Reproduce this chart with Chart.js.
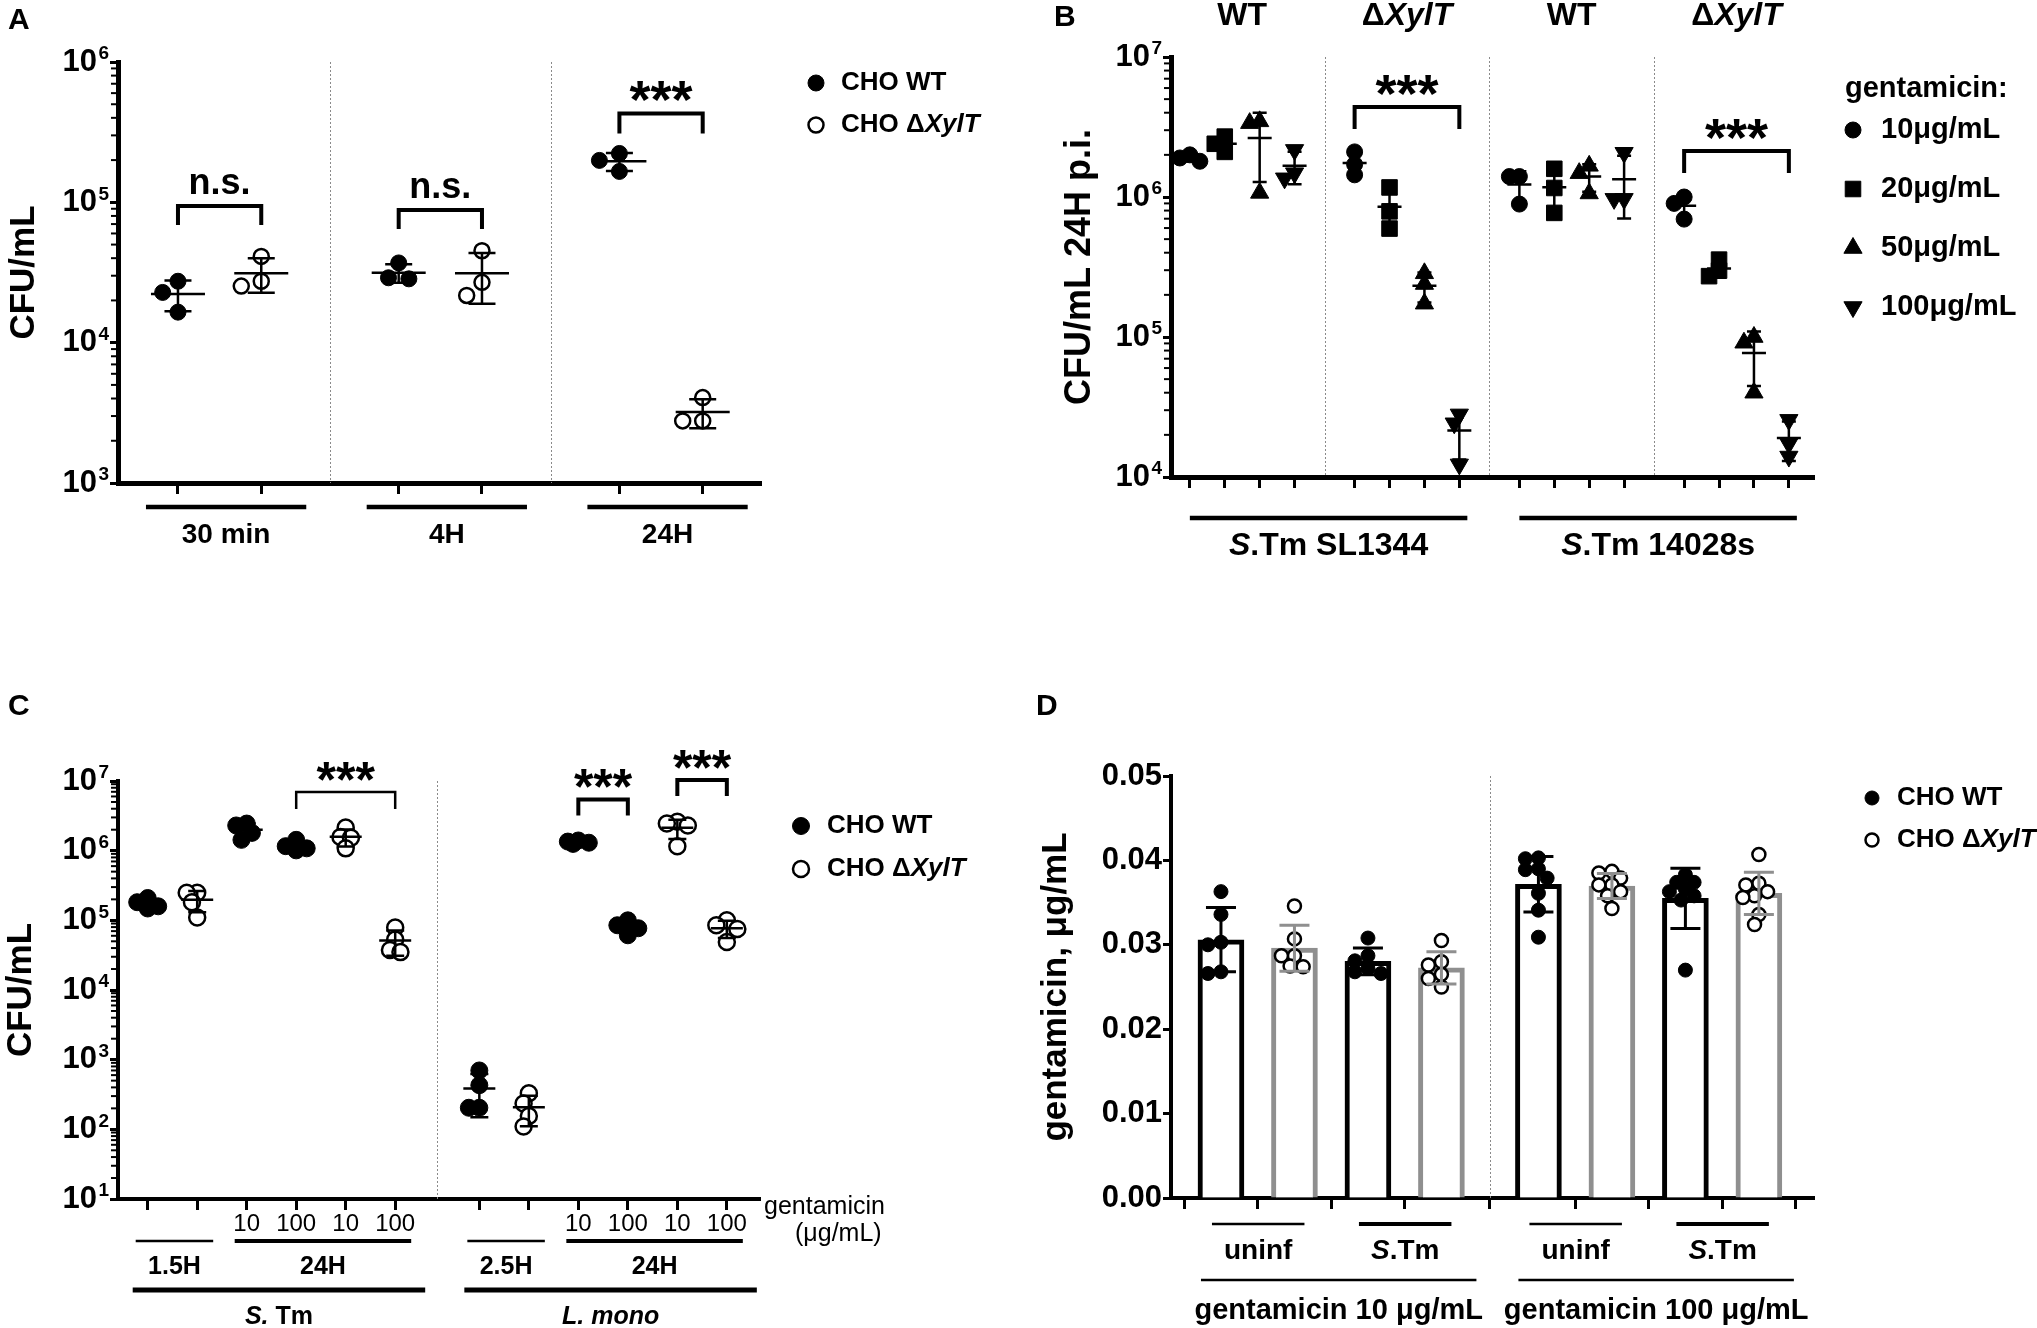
<!DOCTYPE html>
<html>
<head>
<meta charset="utf-8">
<title>CHO XylT gentamicin protection assays</title>
<script src="https://cdn.jsdelivr.net/npm/chart.js@4.4.1/dist/chart.umd.min.js"></script>
<style>
  html, body { margin: 0; padding: 0; background: #fff; }
  #page { position: relative; width: 2037px; height: 1328px; overflow: hidden; background: #fff; }
  #page canvas { position: absolute; }
</style>
</head>
<body>
<div id="page">
  <canvas id="panelA" width="1018" height="660" style="left:0px;top:0px"></canvas>
  <canvas id="panelB" width="1019" height="660" style="left:1018px;top:0px"></canvas>
  <canvas id="panelC" width="1018" height="668" style="left:0px;top:660px"></canvas>
  <canvas id="panelD" width="1019" height="668" style="left:1018px;top:660px"></canvas>
</div>
<script>
const FONT = '"Liberation Sans", Arial, Helvetica, sans-serif';
Chart.defaults.font.family = FONT;
Chart.defaults.color = '#000';

// ---------------- data ----------------
// italic parts of a label are wrapped in _underscores_
const hostLegend = ['CHO WT', 'CHO Δ_XylT_'];

// A: CFU/mL, 3 replicates per host and time
const aTimes = ['30 min', '4H', '24H'];
const aWT = [[2.74e4, 2.28e4, 1.65e4], [3.7e4, 2.9e4, 2.85e4], [2.23e5, 1.99e5, 1.66e5]];
const aXylT = [[4.12e4, 2.74e4, 2.53e4], [4.52e4, 2.69e4, 2.17e4], [4.06e3, 2.77e3, 2.77e3]];
const aSig = ['n.s.', 'n.s.', '***'];
const aTicks = [1e3, 1e4, 1e5, 1e6];

// B: CFU/mL 24H p.i., per gentamicin dose (10, 20, 50, 100)
const bStrains = ['_S_.Tm SL1344', '_S_.Tm 14028s'];
const bHosts = ['WT', 'Δ_XylT_', 'WT', 'Δ_XylT_'];
const bDoses = ['10μg/mL', '20μg/mL', '50μg/mL', '100μg/mL'];
const bWT_SL1344 = [[2.0e6, 1.9e6, 1.8e6], [2.7e6, 2.4e6, 2.1e6], [3.47e6, 3.37e6, 1.07e6], [2.17e6, 1.36e6, 1.48e6]];
const bXylT_SL1344 = [[2.1e6, 1.71e6, 1.44e6], [1.17e6, 7.9e5, 5.95e5], [2.85e5, 2.39e5, 1.73e5], [2.8e4, 2.42e4, 1.23e4]];
const bWT_14028s = [[1.4e6, 1.4e6, 8.9e5], [1.59e6, 1.16e6, 7.7e5], [1.67e6, 1.48e6, 1.06e6], [2.07e6, 9.7e5, 9.7e5]];
const bXylT_14028s = [[1.0e6, 9.0e5, 6.95e5], [3.57e5, 2.98e5, 2.72e5], [1.0e5, 9.1e4, 4.0e4], [2.56e4, 1.73e4, 1.4e4]];
const bSig = ['***', '***'];
const bTicks = [1e4, 1e5, 1e6, 1e7];

// C: CFU/mL, S.Tm and L. mono, 4 replicates
const cTimes = ['1.5H', '24H', '2.5H', '24H'];
const cBugs = ['_S._ Tm', '_L. mono_'];
const cGenta = ['', '', '10', '100', '10', '100'];
const cHost = ['WT', 'XylT', 'WT', 'WT', 'XylT', 'XylT'];
const cSTm = [
  [2.09e5, 1.82e5, 1.59e5, 1.48e5],
  [2.49e5, 2.49e5, 1.82e5, 1.1e5],
  [2.45e6, 2.3e6, 1.8e6, 1.43e6],
  [1.43e6, 1.16e6, 1.08e6, 1.01e6],
  [2.15e6, 1.57e6, 1.53e6, 1.08e6],
  [7.9e4, 5.3e4, 3.76e4, 3.5e4]
];
const cLmono = [
  [7.0e2, 4.3e2, 2.04e2, 2.04e2],
  [3.3e2, 2.35e2, 1.55e2, 1.1e2],
  [1.4e6, 1.35e6, 1.3e6, 1.25e6],
  [1.0e5, 8.5e4, 7.7e4, 6.1e4],
  [2.6e6, 2.45e6, 2.3e6, 1.16e6],
  [1.0e5, 8.5e4, 7.5e4, 4.9e4]
];
const cSig = ['***', '***', '***'];
const cTicks = [1e1, 1e2, 1e3, 1e4, 1e5, 1e6, 1e7];

// D: gentamicin, µg/mL
const dInfection = ['uninf', '_S_.Tm', 'uninf', '_S_.Tm'];
const dGenta = ['gentamicin 10 μg/mL', 'gentamicin 100 μg/mL'];
const dWT = [
  [0.0363, 0.0336, 0.0303, 0.0300, 0.0268, 0.0266],
  [0.0308, 0.0287, 0.0281, 0.0272, 0.0268, 0.0266],
  [0.0403, 0.0402, 0.0390, 0.0389, 0.0379, 0.0361, 0.0341, 0.0309],
  [0.0383, 0.0374, 0.0374, 0.0366, 0.0363, 0.0358, 0.0353, 0.0270]
];
const dXylT = [
  [0.0346, 0.0307, 0.0287, 0.0287, 0.0275, 0.0274],
  [0.0305, 0.0280, 0.0276, 0.0265, 0.0260, 0.0250],
  [0.0385, 0.0387, 0.0379, 0.0371, 0.0371, 0.0363, 0.0358, 0.0343],
  [0.0407, 0.0373, 0.0371, 0.0363, 0.0358, 0.0356, 0.0336, 0.0324]
];
const dTicks = [0, 0.01, 0.02, 0.03, 0.04, 0.05];

// ---------------- helpers ----------------
const GREY = '#8f8f8f';

function mean(a) { return a.reduce((s, v) => s + v, 0) / a.length; }
function sd(a) {
  const m = mean(a);
  return Math.sqrt(a.reduce((s, v) => s + (v - m) * (v - m), 0) / (a.length - 1));
}

// x position of each column, with an extra gap between groups
function columns(n, perGroup, start, gap) {
  const out = [];
  for (let i = 0; i < n; i++) out.push(start + i + Math.floor(i / perGroup) * gap);
  return out;
}
function separators(pos, perGroup) {
  const out = [];
  for (let i = perGroup; i < pos.length; i += perGroup) out.push((pos[i - 1] + pos[i]) / 2);
  return out;
}

// spread points sideways (pixel space); some overlap allowed in narrow columns, like Prism
function swarmOffsets(ys, d, maxOff, overlap) {
  const order = ys.map((_, i) => i).sort((p, q) => ys[p] - ys[q]);
  const thr = overlap * d;
  const s = Math.min(0.3 * d, maxOff);
  const cands = [0];
  for (let k = 1; k * s < maxOff - 0.01; k++) cands.push(-k * s, k * s);
  cands.push(-maxOff, maxOff);
  const placed = [];
  const off = ys.map(() => 0);
  order.forEach(i => {
    let pick = 0, bestD = -1;
    for (const o of cands) {
      let dmin = Infinity;
      placed.forEach(p => { dmin = Math.min(dmin, Math.hypot(p.o - o, p.y - ys[i])); });
      if (dmin >= thr) { pick = o; break; }
      if (dmin > bestD) { bestD = dmin; pick = o; }
    }
    off[i] = pick;
    placed.push({ o: pick, y: ys[i] });
  });
  return off;
}

function richText(ctx, str, x, y, size, weight, align) {
  const parts = str.split('_').map((t, i) => ({ t: t, it: i % 2 === 1 })).filter(p => p.t);
  const fontOf = p => (p.it ? 'italic ' : '') + weight + ' ' + size + 'px ' + FONT;
  let total = 0;
  parts.forEach(p => { ctx.font = fontOf(p); p.w = ctx.measureText(p.t).width; total += p.w; });
  let cx = align === 'center' ? x - total / 2 : (align === 'right' ? x - total : x);
  ctx.textAlign = 'left';
  ctx.textBaseline = 'middle';
  parts.forEach(p => { ctx.font = fontOf(p); ctx.fillText(p.t, cx, y); cx += p.w; });
}

function drawMarker(ctx, st, x, y) {
  ctx.save();
  ctx.fillStyle = st.pointBackgroundColor;
  ctx.strokeStyle = st.pointBorderColor;
  ctx.lineWidth = st.pointBorderWidth;
  Chart.helpers.drawPoint(ctx, {
    pointStyle: st.pointStyle, rotation: st.pointRotation || 0,
    radius: st.pointRadius, borderWidth: st.pointBorderWidth
  }, x, y);
  ctx.restore();
}

// one dataset = one column of replicates
function column(vals, x, style, eb, swarm) {
  return Object.assign({
    type: 'scatter',
    data: vals.map(v => ({ x: x, y: v })),
    vals: vals,
    swarm: swarm,
    clip: false,
    order: 0,
    eb: Object.assign({ x: x }, eb)
  }, style);
}

// ---------------- plugin for the Prism-style extras ----------------
const DECOR = {};
const decorPlugin = {
  id: 'decor',
  afterDatasetsUpdate(chart) {
    chart.data.datasets.forEach((ds, i) => {
      if (!ds.swarm) return;
      const els = chart.getDatasetMeta(i).data;
      const off = swarmOffsets(els.map(e => e.y), ds.swarm[0], ds.swarm[1], ds.swarm[2]);
      els.forEach((e, k) => { e.x += off[k]; });
    });
  },
  beforeDatasetsDraw(chart) {
    const sp = DECOR[chart.canvas.id];
    const ctx = chart.ctx, xs = chart.scales.x, ca = chart.chartArea;
    ctx.save();
    ctx.strokeStyle = '#8a8a8a';
    ctx.lineWidth = 1;
    ctx.setLineDash([2, 2]);
    sp.seps.forEach(v => {
      const px = Math.round(xs.getPixelForValue(v)) + 0.5;
      ctx.beginPath(); ctx.moveTo(px, ca.top); ctx.lineTo(px, ca.bottom); ctx.stroke();
    });
    ctx.restore();
  },
  afterDatasetsDraw(chart) {
    const ctx = chart.ctx, xs = chart.scales.x, ys = chart.scales.y;
    ctx.save();
    ctx.lineCap = 'butt';
    chart.data.datasets.forEach(ds => {
      if (!ds.eb || !ds.vals) return;
      const e = ds.eb, m = mean(ds.vals), s = sd(ds.vals);
      const px = xs.getPixelForValue(e.x);
      const yT = ys.getPixelForValue(m + s);
      const yB = m - s > 0 ? ys.getPixelForValue(m - s) : chart.chartArea.bottom;
      const yM = ys.getPixelForValue(m);
      ctx.strokeStyle = e.color;
      ctx.lineWidth = e.lw;
      ctx.beginPath();
      ctx.moveTo(px, yT); ctx.lineTo(px, yB);
      ctx.moveTo(px - e.cap, yT); ctx.lineTo(px + e.cap, yT);
      ctx.moveTo(px - e.cap, yB); ctx.lineTo(px + e.cap, yB);
      if (e.mean > 0) { ctx.moveTo(px - e.mean, yM); ctx.lineTo(px + e.mean, yM); }
      ctx.stroke();
    });
    ctx.restore();
  },
  afterDraw(chart) {
    const sp = DECOR[chart.canvas.id];
    const ctx = chart.ctx, xs = chart.scales.x, ys = chart.scales.y, ca = chart.chartArea;
    ctx.save();
    ctx.fillStyle = '#000';
    ctx.strokeStyle = '#000';
    ctx.lineCap = 'butt';
    ctx.lineJoin = 'miter';

    if (sp.log) {
      // minor ticks and the decade exponents next to the "10" tick labels
      ctx.lineWidth = 2;
      const lo = Math.round(Math.log10(ys.min)), hi = Math.round(Math.log10(ys.max));
      for (let n = lo; n < hi; n++) {
        for (let k = 2; k <= 9; k++) {
          const py = ys.getPixelForValue(k * Math.pow(10, n));
          ctx.beginPath(); ctx.moveTo(ca.left - 7, py); ctx.lineTo(ca.left, py); ctx.stroke();
        }
      }
      ctx.font = 'bold 19px ' + FONT;
      ctx.textAlign = 'right';
      ctx.textBaseline = 'middle';
      ys.ticks.forEach(t => {
        ctx.fillText(String(Math.round(Math.log10(t.value))), ca.left - 9, ys.getPixelForValue(t.value) - 8);
      });
    }

    (sp.brackets || []).forEach(b => {
      const x1 = xs.getPixelForValue(sp.pos[b.a]), x2 = xs.getPixelForValue(sp.pos[b.b]);
      const y = ys.getPixelForValue(b.y);
      ctx.lineWidth = b.lw;
      ctx.beginPath();
      ctx.moveTo(x1, y + b.drop); ctx.lineTo(x1, y); ctx.lineTo(x2, y); ctx.lineTo(x2, y + b.drop);
      ctx.stroke();
      const star = b.text.indexOf('*') >= 0;
      ctx.font = 'bold ' + (star ? b.starSize : b.nsSize) + 'px ' + FONT;
      ctx.textAlign = 'center';
      ctx.textBaseline = 'alphabetic';
      ctx.fillText(b.text, (x1 + x2) / 2, star ? y + 5 : y - 12);
    });

    (sp.groups || []).forEach(g => g.items.forEach((it, k) => {
      const x1 = xs.getPixelForValue(sp.pos[it[0]]) - g.extL;
      const x2 = xs.getPixelForValue(sp.pos[it[1]]) + g.extR;
      const ly = ca.bottom + g.lineDy;
      ctx.lineWidth = Array.isArray(g.lw) ? g.lw[k] : g.lw;
      ctx.beginPath(); ctx.moveTo(x1, ly); ctx.lineTo(x2, ly); ctx.stroke();
      richText(ctx, it[2], (x1 + x2) / 2, ca.bottom + g.labelDy, g.size, g.weight, 'center');
    }));

    if (sp.top) {
      sp.top.items.forEach(it => {
        const cx = (xs.getPixelForValue(sp.pos[it[0]]) + xs.getPixelForValue(sp.pos[it[1]])) / 2;
        richText(ctx, it[2], cx, sp.top.y, sp.top.size, 'bold', 'center');
      });
    }

    if (sp.legend) {
      const L = sp.legend;
      if (L.title) richText(ctx, L.title, L.titleX, L.titleY, L.size, 'bold', 'left');
      L.items.forEach((it, k) => {
        const y = L.y + k * L.dy;
        drawMarker(ctx, it.style, L.x, y);
        richText(ctx, it.label, L.textX, y, L.size, 'bold', 'left');
      });
    }

    (sp.texts || []).forEach(t => richText(ctx, t.text, t.x, t.y, t.size, t.weight, t.align));
    richText(ctx, sp.letter[0], sp.letter[1], sp.letter[2], 30, 'bold', 'left');
    ctx.restore();
  }
};

// ---------------- chart factory ----------------
function makeChart(id, geo, datasets, yOpts, xLabels, spec) {
  const cv = document.getElementById(id);
  DECOR[id] = spec;
  const y = Object.assign({
    position: 'left',
    afterFit: s => { s.width = geo.left; },
    grid: { drawOnChartArea: false, drawTicks: true, tickLength: 8, tickWidth: 3, tickColor: '#000' },
    border: { display: true, color: '#000', width: geo.axis },
    title: {
      display: true, text: geo.yTitle, color: '#000',
      font: { size: geo.yTitleSize, weight: 'bold' },
      padding: { top: geo.yTitlePad, bottom: 0 }
    }
  }, yOpts);
  y.ticks = Object.assign({ color: '#000', padding: 1, autoSkip: false, font: { size: 31, weight: 'bold' } }, yOpts.ticks);

  return new Chart(cv, {
    type: 'scatter',
    data: { datasets: datasets },
    options: {
      responsive: false,
      animation: false,
      devicePixelRatio: 1,
      events: [],
      layout: { padding: { left: 0, top: geo.top, right: cv.width - geo.right, bottom: 0 } },
      plugins: { legend: { display: false }, tooltip: { enabled: false } },
      scales: {
        x: {
          type: 'linear', min: 0, max: geo.xMax, offset: false,
          afterFit: s => { s.height = cv.height - geo.bottom; },
          afterBuildTicks: s => { s.ticks = spec.pos.map(v => ({ value: v })); },
          grid: { drawOnChartArea: false, drawTicks: true, tickLength: 11, tickWidth: 3, tickColor: '#000' },
          border: { display: true, color: '#000', width: geo.axis },
          ticks: {
            display: !!xLabels, autoSkip: false, maxRotation: 0, minRotation: 0, padding: 0, color: '#000',
            font: { size: 24, weight: 'normal' },
            callback: (v, i) => (xLabels ? xLabels[i] : '')
          }
        },
        y: y
      }
    },
    plugins: [decorPlugin]
  });
}

// log axis: ticks read "10", the exponent is added by the plugin
function logAxis(min, max, ticks) {
  return {
    type: 'logarithmic', min: min, max: max,
    afterBuildTicks: s => { s.ticks = ticks.map(v => ({ value: v })); },
    ticks: { padding: 13, callback: () => '10' }
  };
}

// ---------------- panel A ----------------
const A_FILLED = { pointStyle: 'circle', pointRadius: 8, pointBackgroundColor: '#000', pointBorderColor: '#000', pointBorderWidth: 1 };
const A_OPEN = { pointStyle: 'circle', pointRadius: 7.5, pointBackgroundColor: '#fff', pointBorderColor: '#000', pointBorderWidth: 2.5 };
const aPos = columns(6, 2, 0.72, 0.65);
const aEb = { mean: 27, cap: 13.5, lw: 2.5, color: '#000' };
const aSets = [];
aTimes.forEach((t, g) => {
  aSets.push(column(aWT[g], aPos[2 * g], A_FILLED, aEb, [17, 20, 1.0]));
  aSets.push(column(aXylT[g], aPos[2 * g + 1], A_OPEN, aEb, [17, 20, 1.0]));
});
makeChart('panelA',
  { left: 118, top: 62, right: 761, bottom: 483, xMax: 7.72, axis: 5, yTitle: 'CFU/mL', yTitleSize: 35, yTitlePad: 3 },
  aSets, logAxis(1e3, 1e6, aTicks), null,
  {
    pos: aPos, seps: separators(aPos, 2), log: true, letter: ['A', 8, 21],
    brackets: [
      { a: 0, b: 1, y: 9.4e4, text: aSig[0], lw: 4, drop: 19, nsSize: 36, starSize: 54 },
      { a: 2, b: 3, y: 8.8e4, text: aSig[1], lw: 4, drop: 19, nsSize: 36, starSize: 54 },
      { a: 4, b: 5, y: 4.3e5, text: aSig[2], lw: 4, drop: 20, nsSize: 36, starSize: 54 }
    ],
    groups: [{ items: aTimes.map((t, g) => [2 * g, 2 * g + 1, t]), lineDy: 24, labelDy: 52, lw: 4.5, extL: 32, extR: 45, size: 28, weight: 'bold' }],
    legend: { x: 816, y: 83, dy: 42, textX: 841, size: 26, items: [{ label: hostLegend[0], style: A_FILLED }, { label: hostLegend[1], style: A_OPEN }] }
  });

// ---------------- panel B ----------------
const bShapes = [
  { pointStyle: 'circle', pointRadius: 8, pointRotation: 0 },
  { pointStyle: 'rect', pointRadius: 11, pointRotation: 0 },
  { pointStyle: 'triangle', pointRadius: 10.5, pointRotation: 0 },
  { pointStyle: 'triangle', pointRadius: 10.5, pointRotation: 180 }
].map(s => Object.assign({ pointBackgroundColor: '#000', pointBorderColor: '#000', pointBorderWidth: 1 }, s));
const bPos = columns(16, 4, 0.54, 0.72);
const bEb = { mean: 12, cap: 7, lw: 2.5, color: '#000' };
const bSets = [];
[bWT_SL1344, bXylT_SL1344, bWT_14028s, bXylT_14028s].forEach((grp, g) => {
  grp.forEach((vals, k) => bSets.push(column(vals, bPos[4 * g + k], bShapes[k], bEb, [17, 10, 0.6])));
});
makeChart('panelB',
  { left: 153, top: 57, right: 796, bottom: 477, xMax: 18.42, axis: 5, yTitle: 'CFU/mL 24H p.i.', yTitleSize: 36, yTitlePad: 40 },
  bSets, logAxis(1e4, 1e7, bTicks), null,
  {
    pos: bPos, seps: separators(bPos, 4), log: true, letter: ['B', 36, 18],
    brackets: [
      { a: 4, b: 7, y: 4.4e6, text: bSig[0], lw: 4, drop: 22, nsSize: 36, starSize: 54 },
      { a: 12, b: 15, y: 2.13e6, text: bSig[1], lw: 4, drop: 22, nsSize: 36, starSize: 54 }
    ],
    top: { y: 16, size: 32, items: bHosts.map((h, g) => [4 * g, 4 * g + 3, h]) },
    groups: [{ items: bStrains.map((s, g) => [8 * g, 8 * g + 7, s]), lineDy: 41, labelDy: 69, lw: 4.5, extL: 0, extR: 8, size: 32, weight: 'bold' }],
    legend: {
      title: 'gentamicin:', titleX: 827, titleY: 89,
      x: 835, y: 130, dy: 59, textX: 863, size: 29,
      items: bDoses.map((d, k) => ({ label: d, style: bShapes[k] }))
    }
  });

// ---------------- panel C ----------------
const C_FILLED = { pointStyle: 'circle', pointRadius: 8.5, pointBackgroundColor: '#000', pointBorderColor: '#000', pointBorderWidth: 1 };
const C_OPEN = { pointStyle: 'circle', pointRadius: 8, pointBackgroundColor: '#fff', pointBorderColor: '#000', pointBorderWidth: 2.5 };
const cPos = columns(12, 6, 0.6, 0.7);
const cEb = { mean: 16, cap: 9, lw: 2.5, color: '#000' };
const cSets = [];
[cSTm, cLmono].forEach((bug, b) => {
  bug.forEach((vals, j) => cSets.push(column(vals, cPos[6 * b + j], cHost[j] === 'WT' ? C_FILLED : C_OPEN, cEb, [17.5, 13, 0.6])));
});
makeChart('panelC',
  { left: 118, top: 121, right: 760, bottom: 539, xMax: 12.97, axis: 4, yTitle: 'CFU/mL', yTitleSize: 35, yTitlePad: 0 },
  cSets, logAxis(1e1, 1e7, cTicks), cGenta.concat(cGenta),
  {
    pos: cPos, seps: separators(cPos, 6), log: true, letter: ['C', 8, 47],
    brackets: [
      { a: 3, b: 5, y: 6.95e6, text: cSig[0], lw: 2.5, drop: 17, nsSize: 34, starSize: 50 },
      { a: 8, b: 9, y: 5.43e6, text: cSig[1], lw: 4, drop: 16, nsSize: 34, starSize: 50 },
      { a: 10, b: 11, y: 1.03e7, text: cSig[2], lw: 4, drop: 16, nsSize: 34, starSize: 50 }
    ],
    groups: [
      { items: [[0, 1, cTimes[0]], [2, 5, cTimes[1]], [6, 7, cTimes[2]], [8, 11, cTimes[3]]], lineDy: 42, labelDy: 68, lw: [2.5, 4, 2.5, 4], extL: 12, extR: 16, size: 25, weight: 'bold' },
      { items: [[0, 5, cBugs[0]], [6, 11, cBugs[1]]], lineDy: 91, labelDy: 118, lw: 5, extL: 15, extR: 30, size: 25, weight: 'bold' }
    ],
    texts: [
      { text: 'gentamicin', x: 764, y: 547, size: 25, weight: 'normal', align: 'left' },
      { text: '(μg/mL)', x: 795, y: 574, size: 25, weight: 'normal', align: 'left' }
    ],
    legend: { x: 801, y: 166, dy: 43, textX: 827, size: 26, items: [{ label: hostLegend[0], style: C_FILLED }, { label: hostLegend[1], style: C_OPEN }] }
  });

// ---------------- panel D ----------------
const D_FILLED = { pointStyle: 'circle', pointRadius: 7, pointBackgroundColor: '#000', pointBorderColor: '#000', pointBorderWidth: 1 };
const D_OPEN = { pointStyle: 'circle', pointRadius: 6.5, pointBackgroundColor: '#fff', pointBorderColor: '#000', pointBorderWidth: 2.5 };
const dPos = columns(8, 4, 0.68, 0.32);
const dSets = [];
const barBase = { type: 'bar', barThickness: 46, borderWidth: 5, backgroundColor: '#fff', borderSkipped: 'start', grouped: false, order: 1 };
dSets.push(Object.assign({}, barBase, { borderColor: '#000', data: dWT.map((v, g) => ({ x: dPos[2 * g], y: mean(v) })) }));
dSets.push(Object.assign({}, barBase, { borderColor: GREY, data: dXylT.map((v, g) => ({ x: dPos[2 * g + 1], y: mean(v) })) }));
dInfection.forEach((inf, g) => {
  dSets.push(column(dWT[g], dPos[2 * g], D_FILLED, { mean: 0, cap: 15, lw: 3, color: '#000' }, [14.5, 16, 0.75]));
  dSets.push(column(dXylT[g], dPos[2 * g + 1], D_OPEN, { mean: 0, cap: 15, lw: 3, color: GREY }, [14.5, 16, 0.75]));
});
makeChart('panelD',
  { left: 153, top: 116, right: 796, bottom: 538, xMax: 8.75, axis: 4, yTitle: 'gentamicin, μg/mL', yTitleSize: 35, yTitlePad: 17 },
  dSets,
  {
    type: 'linear', min: 0, max: 0.05,
    afterBuildTicks: s => { s.ticks = dTicks.map(v => ({ value: v })); },
    ticks: { callback: v => v.toFixed(2) }
  }, null,
  {
    pos: dPos, seps: separators(dPos, 4), log: false, letter: ['D', 18, 47],
    groups: [
      { items: dInfection.map((t, g) => [2 * g, 2 * g + 1, t]), lineDy: 26, labelDy: 53, lw: [2.5, 4, 2.5, 4], extL: 9, extR: 10, size: 28, weight: 'bold' },
      { items: dGenta.map((t, g) => [4 * g, 4 * g + 3, t]), lineDy: 82, labelDy: 113, lw: 2.5, extL: 20, extR: 35, size: 29, weight: 'bold' }
    ],
    legend: { x: 854, y: 138, dy: 42, textX: 879, size: 26, items: [{ label: hostLegend[0], style: D_FILLED }, { label: hostLegend[1], style: D_OPEN }] }
  });
</script>
</body>
</html>
